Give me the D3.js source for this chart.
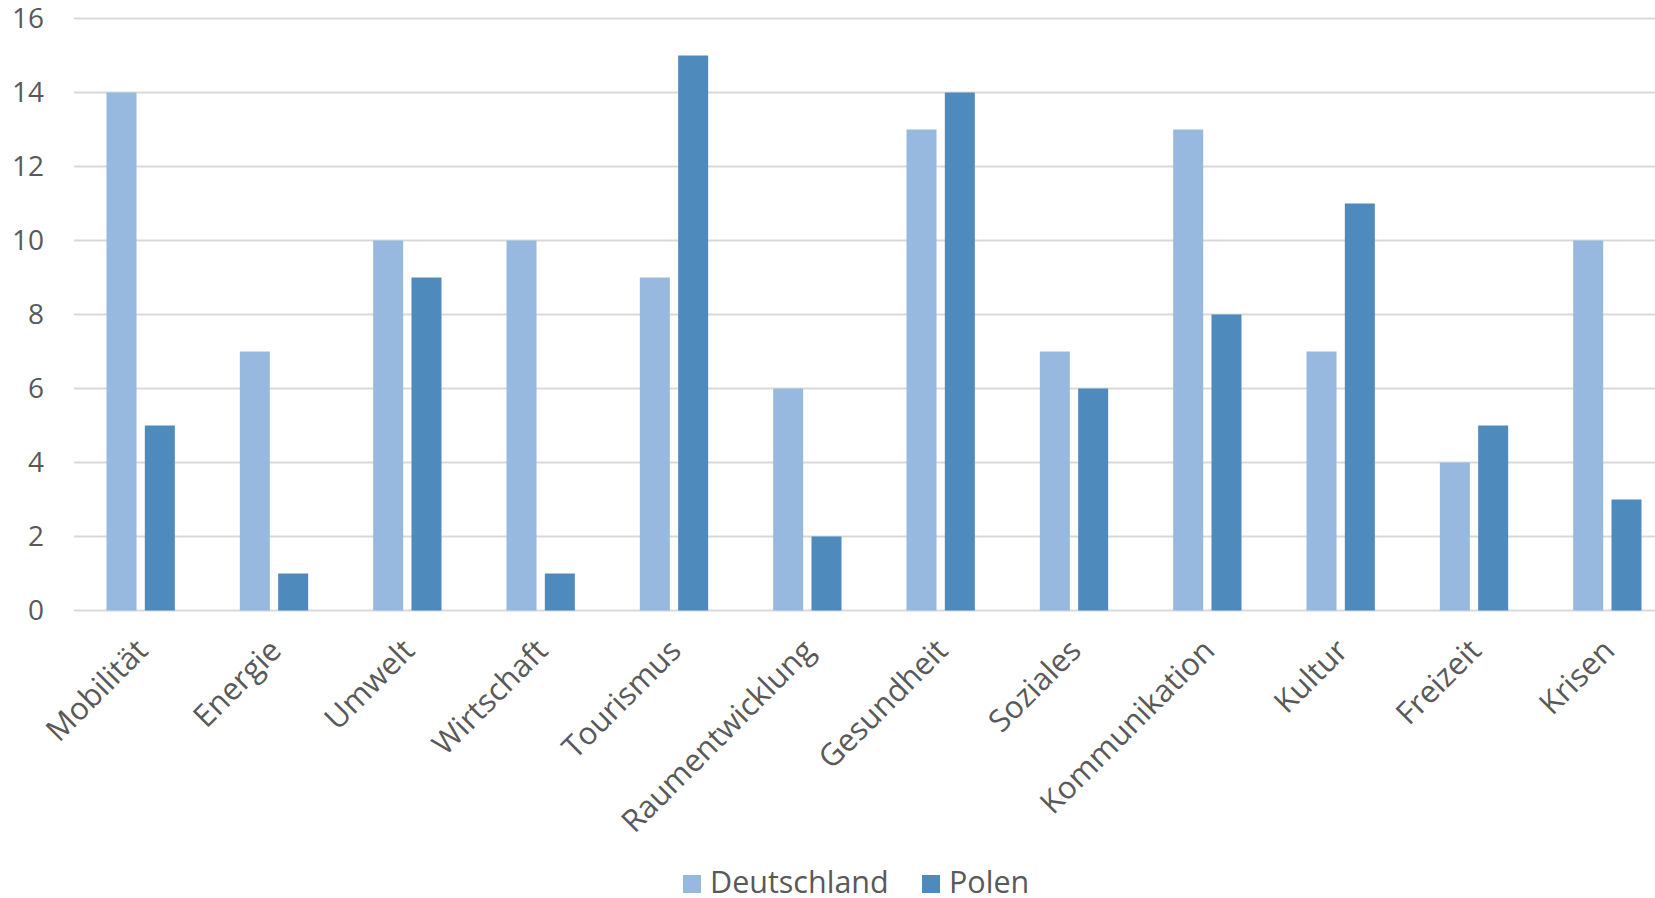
<!DOCTYPE html>
<html>
<head>
<meta charset="utf-8">
<script src="https://cdn.jsdelivr.net/npm/d3@7"></script>
<style>
  html, body { margin: 0; padding: 0; background: #fff; }
  svg { display: block; }
  text { font-family: "Open Sans", "Noto Sans", sans-serif; fill: #595959; }
</style>
</head>
<body>
<svg id="chart" width="1655" height="898"></svg>
<script>
const categories = ["Mobilität", "Energie", "Umwelt", "Wirtschaft", "Tourismus", "Raumentwicklung",
  "Gesundheit", "Soziales", "Kommunikation", "Kultur", "Freizeit", "Krisen"];
const seriesNames = ["Deutschland", "Polen"];
const deutschland = [14, 7, 10, 10, 9, 6, 13, 7, 13, 7, 4, 10];
const polen = [5, 1, 9, 1, 15, 2, 14, 6, 8, 11, 5, 3];
const yTicks = [0, 2, 4, 6, 8, 10, 12, 14, 16];
const colors = ["#98B9DF", "#4F8ABD"];

const svg = d3.select("#chart");
const W = 1655;
const plotLeft = 74, plotRight = 1674, plotTop = 18.5, plotBottom = 610.5;

const x = d3.scaleBand().domain(categories).range([plotLeft, plotRight]).paddingInner(0.4877).paddingOuter(0.2438);
const xs = d3.scaleBand().domain(seriesNames).range([0, x.bandwidth()]).paddingInner(0.217);
const y = d3.scaleLinear().domain([0, 16]).range([plotBottom, plotTop]);

// gridlines
svg.append("g").selectAll("line").data(yTicks).join("line")
  .attr("x1", plotLeft).attr("x2", W)
  .attr("y1", d => y(d)).attr("y2", d => y(d))
  .attr("stroke", "#D9D9D9").attr("stroke-width", 2);

// y axis labels
const yAxis = d3.axisLeft(y).tickValues(yTicks).tickSize(0).tickPadding(0);
const yg = svg.append("g").attr("transform", `translate(${plotLeft - 30},0)`).call(yAxis);
yg.select(".domain").remove();
yg.selectAll("text").attr("font-size", 28).attr("fill", "#595959")
  .style("font-family", '"Open Sans", "Noto Sans", sans-serif');

// bars
const data = categories.map((c, i) => ({ cat: c, values: [deutschland[i], polen[i]] }));
const groups = svg.append("g").selectAll("g").data(data).join("g")
  .attr("transform", d => `translate(${x(d.cat)},0)`);
groups.selectAll("rect").data(d => d.values.map((v, j) => ({ v, s: seriesNames[j], j })))
  .join("rect")
  .attr("x", d => xs(d.s))
  .attr("width", xs.bandwidth())
  .attr("y", d => y(d.v))
  .attr("height", d => y(0) - y(d.v))
  .attr("fill", d => colors[d.j]);

// x labels
const xAxis = d3.axisBottom(x).tickSize(0).tickPadding(0);
const xg = svg.append("g").attr("transform", `translate(0,${plotBottom})`).call(xAxis);
xg.select(".domain").remove();
xg.selectAll("text")
  .attr("font-size", 31).attr("fill", "#595959")
  .style("font-family", '"Open Sans", "Noto Sans", sans-serif')
  .attr("text-anchor", "end")
  .attr("dy", 0)
  .attr("y", 0)
  .attr("transform", "translate(9,42) rotate(-45)");

// legend
const legend = svg.append("g").attr("transform", "translate(683,875)");
const items = [{ name: "Deutschland", x: 0 }, { name: "Polen", x: 239 }];
items.forEach((it, i) => {
  const g = legend.append("g").attr("transform", `translate(${it.x},0)`);
  g.append("rect").attr("width", 18).attr("height", 18).attr("fill", colors[i]);
  g.append("text").attr("x", 27).attr("y", 17.5).attr("font-size", 30.5).text(it.name);
});
</script>
</body>
</html>
